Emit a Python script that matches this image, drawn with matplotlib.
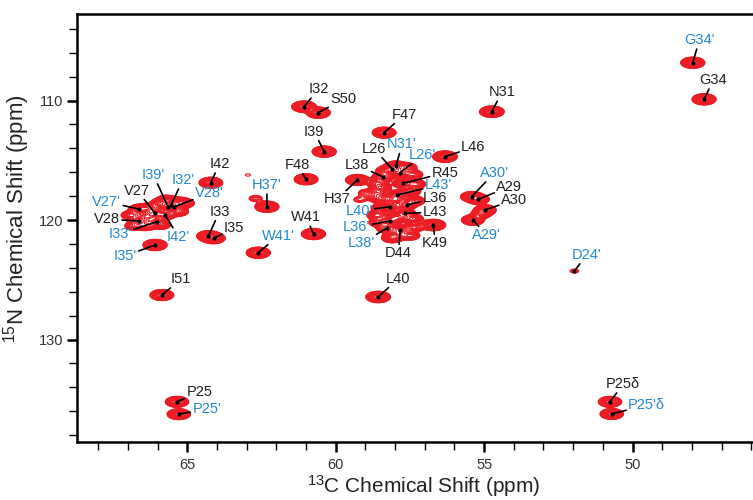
import numpy as np
import matplotlib
matplotlib.use("Agg")
import matplotlib.pyplot as plt
from matplotlib.ticker import MultipleLocator

plt.rcParams['font.family'] = ['Liberation Sans', 'DejaVu Sans']
plt.rcParams['mathtext.fontset'] = 'custom'
plt.rcParams['mathtext.rm'] = 'Liberation Sans'
plt.rcParams['mathtext.default'] = 'regular'

# ---------------- data: assigned peaks (13C ppm, 15N ppm, relative height) -------------
peak_names = ["G34'", "G34", "N31", "I32", "S50", "F47", "I39", "L46", "F48", "H37'",
              "I42", "H37", "L38", "L26", "N31'", "L26'", "R45", "L43'", "L36", "L40'",
              "L43", "L36'", "L38'", "D44", "K49", "A30'", "A29", "A30", "A29'", "W41",
              "W41'", "L40", "D24'", "I33", "I35", "I51", "I35'", "I33'", "I42'", "V28",
              "V27'", "V27", "I39'", "I32'", "V28'", "P25", "P25'", "P25δ", "P25'δ"]
peak_c13 = [47.97, 47.59, 54.74, 61.07, 60.59, 58.37, 60.39, 56.32, 61.00, 62.32,
            64.21, 59.27, 58.41, 58.10, 57.97, 57.83, 57.72, 57.94, 57.61, 58.17,
            57.67, 58.17, 58.28, 57.83, 56.71, 55.42, 55.20, 54.97, 55.38, 60.75,
            62.61, 58.57, 51.96, 64.29, 64.12, 65.86, 66.09, 66.03, 65.75, 66.62,
            66.62, 66.09, 65.65, 65.55, 65.45, 65.35, 65.29, 50.76, 50.70]
peak_n15 = [106.84, 109.90, 110.94, 110.52, 111.02, 112.69, 114.28, 114.70, 116.59, 118.89,
            116.88, 116.65, 116.40, 115.73, 115.48, 116.04, 116.93, 117.91, 118.74, 118.89,
            119.44, 120.08, 120.69, 120.84, 120.42, 118.05, 118.27, 119.16, 120.00, 121.17,
            122.74, 126.44, 124.27, 121.34, 121.53, 126.28, 122.09, 120.14, 119.58, 120.08,
            119.10, 119.44, 118.91, 118.74, 118.91, 135.21, 136.25, 135.21, 136.23]
peak_height = [22, 22, 25, 25, 22, 20, 22, 25, 20, 22,
               20, 20, 12, 12, 12, 12, 12, 10, 10, 10,
               10, 10, 10, 10, 25, 14, 14, 14, 16, 22,
               22, 25, 1.5, 18, 18, 20, 22, 10, 10, 12,
               12, 10, 10, 10, 10, 18, 18, 18, 18]

# unassigned / overlapping intensity (13C ppm, 15N ppm, relative height)
extra_c13 = [65.30, 65.90, 66.30, 66.90, 66.40, 65.30, 65.10, 65.70, 66.35, 65.90, 66.80,
             58.50, 57.50, 58.50, 57.40, 58.60, 57.50, 58.10, 58.60, 57.40,
             58.30, 57.60, 58.60, 57.30, 57.35, 58.00, 58.45, 57.95, 57.35, 58.55, 58.00,
             59.00, 59.20, 58.90, 55.10, 62.70, 62.96]
extra_n15 = [118.50, 118.60, 119.00, 119.60, 120.50, 119.30, 118.60, 118.30, 119.70, 120.40, 120.50,
             117.30, 117.60, 118.20, 119.90, 119.60, 121.30, 121.50, 116.90, 116.20,
             115.90, 115.60, 117.80, 117.00, 118.40, 118.30, 119.00, 119.80, 120.60, 120.20, 121.30,
             117.70, 118.30, 118.00, 119.50, 118.20, 116.23]
extra_height = [10, 10, 10, 8, 8, 8, 8, 8, 8, 8, 6,
                12, 12, 12, 10, 10, 8, 10, 8, 8,
                10, 8, 8, 8, 10, 12, 10, 12, 8, 8, 10,
                2.5, 2.0, 2.0, 8, 2.5, 1.15]

# ---------------- layout: label offsets (pixels, text centre relative to peak) ---------
label_offsets = {
    "G34'": (6.6, 22.7), "G34": (9.3, 19.3), "N31": (10, 19.4), "I32": (14.3, 17.4),
    "S50": (25, 13.4), "F47": (20, 17.7), "I39": (-10, 20), "L46": (28.3, 9.4),
    "F48": (-9, 14.3), "H37'": (0, 21.7), "I42": (8.6, 18.7), "H37": (-20.6, -19.3),
    "L38": (-25.7, 12), "L26": (-18, 20), "N31'": (6, 21.5), "L26'": (22.7, 17.7),
    "R45": (41.7, 10.6), "L43'": (41.6, 10), "L36": (28.3, 6.5), "L40'": (-31, -4.0),
    "L43": (30, 1.0), "L36'": (-33.3, -6.3), "L38'": (-25, -14.4), "D44": (-1.7, -23.3),
    "K49": (1.7, -18.3), "A30'": (22.3, 23.4), "A29": (31, 12.6), "A30": (29, 10),
    "A29'": (14, -15), "W41": (-7.3, 16.7), "W41'": (19.7, 16.7), "L40": (20, 18),
    "D24'": (12.4, 16), "I33": (11, 24.3), "I35": (20.7, 10), "I51": (19, 15.7),
    "I35'": (-30, -11), "I33'": (-36.7, -12.3), "I42'": (13.3, -21.7), "V28": (-32.6, 1.7),
    "V27'": (-32.6, 7.6), "V27": (-17.7, 22.6), "I39'": (-14.7, 32), "I32'": (11.7, 25),
    "V28'": (35.3, 13.7), "P25": (22.5, 9.5), "P25'": (28, 5), "P25δ": (13.3, 17.7),
    "P25'δ": (35, 9),
}

RED = '#ec1c24'
BLUE = '#2389d0'
BLACK = '#231f20'

fig = plt.figure(figsize=(7.53, 5.0), dpi=100)
ax = fig.add_axes([77 / 753, (500 - 441.7) / 500, 676 / 753, (441.7 - 13.5) / 500])

# 2D spectrum contoured from the peak list
xc = np.linspace(45.5, 69.0, 1100)
yn = np.linspace(102.0, 139.0, 900)
X, Y = np.meshgrid(xc, yn)
Z = np.zeros_like(X)
sx, sy = 0.165, 0.19
for c, n, h in zip(peak_c13 + extra_c13, peak_n15 + extra_n15, peak_height + extra_height):
    Z += h * np.exp(-((X - c) ** 2 / (2 * sx ** 2) + (Y - n) ** 2 / (2 * sy ** 2)))
levels = 1.0 * 1.18 ** np.arange(0, 32)
ax.contour(X, Y, Z, levels=levels, colors=RED, linewidths=0.8)

# peak centres
ax.plot(peak_c13, peak_n15, 'o', ms=2.0, color='k', zorder=5)

for name, c, n in zip(peak_names, peak_c13, peak_n15):
    dx, dy = label_offsets[name]
    col = BLUE if "'" in name else BLACK
    ax.annotate(name, xy=(c, n), xytext=(dx, dy), textcoords='offset pixels',
                ha='center', va='center', fontsize=10.5, color=col,
                bbox=dict(boxstyle='square,pad=0.05', fc='none', ec='none'),
                arrowprops=dict(arrowstyle='-', color='k', lw=1.2, shrinkA=1, shrinkB=0),
                zorder=6)

ax.set_xlim(68.72, 45.94)
ax.set_ylim(138.55, 102.72)
ax.xaxis.set_major_locator(MultipleLocator(5))
ax.xaxis.set_minor_locator(MultipleLocator(1))
ax.yaxis.set_major_locator(MultipleLocator(10))
ax.yaxis.set_minor_locator(MultipleLocator(2))
ax.tick_params(which='major', direction='out', length=7, width=1.8, labelsize=10.5,
               labelcolor='#333333')
ax.tick_params(axis='x', which='major', pad=4.5)
ax.tick_params(axis='y', which='major', pad=3)
ax.tick_params(which='minor', direction='out', length=6, width=1.0)
ax.tick_params(top=False, right=False, which='both')
for s in ['left', 'bottom', 'top']:
    ax.spines[s].set_linewidth(1.8)
ax.spines['right'].set_visible(False)

ax.set_xlabel(r'$^{13}$C Chemical Shift (ppm)', fontsize=15, color='#222222')
ax.set_ylabel(r'$^{15}$N Chemical Shift (ppm)', fontsize=16, color='#222222')
ax.xaxis.set_label_coords(0.513, -0.074)
ax.yaxis.set_label_coords(-0.066, 0.52)

fig.savefig('out.png', dpi=100)
